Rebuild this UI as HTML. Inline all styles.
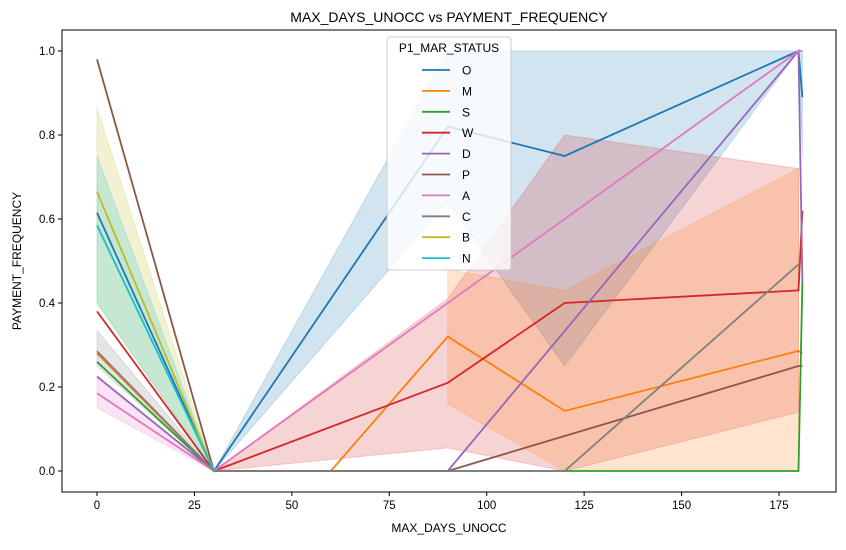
<!DOCTYPE html><html><head><meta charset="utf-8"><style>
body{margin:0;background:#fff;font-family:"Liberation Sans","DejaVu Sans",sans-serif}
text{font-family:"Liberation Sans","DejaVu Sans",sans-serif}
</style></head><body>
<svg id="c" width="846" height="545"></svg>
<script>
const xs=[0,30,60,90,120,180,181];
const seriesNames=["O","M","S","W","D","P","A","C","B","N"];
const colors=["#1f77b4","#ff7f0e","#2ca02c","#d62728","#9467bd","#8c564b","#e377c2","#7f7f7f","#bcbd22","#17becf"];
const vO=[0.615,0,null,0.82,0.75,1.0,0.89];
const vM=[0.28,0,0,0.32,0.143,0.286,0.28];
const vS=[0.26,0,0,0,0,0,0.45];
const vW=[0.38,0,null,0.21,0.40,0.43,0.62];
const vD=[0.225,0,null,0,null,1.0,0.45];
const vP=[0.98,0,null,0,null,0.25,0.25];
const vA=[0.185,0,null,null,null,1.0,1.0];
const vC=[0.285,0,null,null,0,null,0.5];
const vB=[0.665,0,null,null,null,null,null];
const vN=[0.585,0,null,null,null,null,null];
const values=[vO,vM,vS,vW,vD,vP,vA,vC,vB,vN];
// confidence bands [x, lower, upper]
const bandO=[[30,0,0],[90,0.64,1.0],[120,0.25,1.0],[180,1,1],[181,0.75,1]];
const bandM=[[90,0.16,0.48],[120,0,0.43],[180,0,0.72]];
const bandW=[[30,0,0],[90,0.055,0.41],[120,0,0.8],[180,0.14,0.72]];
const bandB=[[0,0.4,0.865],[30,0,0]];
const bandN=[[0,0.4,0.75],[30,0,0]];
const bandC=[[0,0.25,0.335],[30,0,0]];
const bandA=[[0,0.15,0.22],[30,0,0]];
const xTicks=[0,25,50,75,100,125,150,175];
const yTicks=[0,0.2,0.4,0.6,0.8,1.0];
const L=62,R=836,T=30,B=492;
const X=v=>97+v*(779-97)/175;
const Y=v=>471-v*420;
const svg=document.getElementById('c');
const NS="http://www.w3.org/2000/svg";
function mk(t,a,p){const e=document.createElementNS(NS,t);for(const k in a)e.setAttribute(k,a[k]);(p||svg).appendChild(e);return e;}
function band(b,col,op,name){
 const pts=b.map(p=>X(p[0])+","+Y(p[2])).concat(b.slice().reverse().map(p=>X(p[0])+","+Y(p[1])));
 const e=mk('polygon',{points:pts.join(" "),fill:col,'fill-opacity':op,stroke:col,'stroke-opacity':op});
 
 
}
band(bandB,"#bcbd22",0.2,"band-b");band(bandN,"#17becf",0.2,"band-n");band(bandC,"#7f7f7f",0.2,"band-c");band(bandA,"#e377c2",0.2,"band-a");
band(bandO,"#1f77b4",0.2,"band-o");band(bandW,"#d62728",0.2,"band-w");
band(bandM,"#ff7f0e",0.2,"band-m");
values.forEach((vals,i)=>{
 const pts=[];xs.forEach((x,j)=>{if(vals[j]!==null)pts.push(X(x)+","+Y(vals[j]));});
 const e=mk('polyline',{points:pts.join(" "),fill:"none",stroke:colors[i],'stroke-width':1.8});
 
 
});
const fr=mk('rect',{x:L,y:T,width:R-L,height:B-T,fill:"none",stroke:"#000",'stroke-width':1});


xTicks.forEach(t=>{mk('line',{x1:X(t),x2:X(t),y1:B,y2:B+4,stroke:"#000"});
 const e=mk('text',{x:X(t),y:B+17,'text-anchor':'middle','font-size':11.5});e.textContent=t;
 
 });
yTicks.forEach(t=>{mk('line',{x1:L-4,x2:L,y1:Y(t),y2:Y(t),stroke:"#000"});
 const e=mk('text',{x:L-7,y:Y(t)+4,'text-anchor':'end','font-size':11.5});e.textContent=t.toFixed(1);
 
 });
let e=mk('text',{x:449,y:22,'text-anchor':'middle','font-size':14});e.textContent="MAX_DAYS_UNOCC vs PAYMENT_FREQUENCY";


e=mk('text',{x:449,y:532,'text-anchor':'middle','font-size':12});e.textContent="MAX_DAYS_UNOCC";


e=mk('text',{x:21,y:261,'text-anchor':'middle','font-size':12,transform:"rotate(-90 21 261)"});e.textContent="PAYMENT_FREQUENCY";


const lg=mk('g',{});


mk('rect',{x:387,y:37,width:124,height:233,rx:3,fill:"#fff",'fill-opacity':0.8,stroke:"#ccc"},lg);
e=mk('text',{x:449,y:52,'text-anchor':'middle','font-size':12},lg);e.textContent="P1_MAR_STATUS";
seriesNames.forEach((n,i)=>{const y=70+i*20.9;
 mk('line',{x1:422,x2:450,y1:y,y2:y,stroke:colors[i],'stroke-width':1.8},lg);
 const t=mk('text',{x:462,y:y+4.5,'font-size':12},lg);t.textContent=n;
 
 });
</script></body></html>
